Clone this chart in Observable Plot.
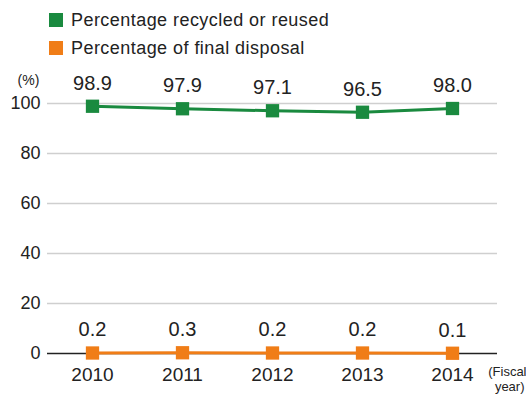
<!DOCTYPE html>
<html><head><meta charset="utf-8">
<script src="https://cdn.jsdelivr.net/npm/d3@7"></script>
<script src="https://cdn.jsdelivr.net/npm/@observablehq/plot@0.6"></script>
<style>
body{margin:0;background:#fff;font-family:"Liberation Sans",Arial,sans-serif;}
#wrap{position:relative;width:526px;height:396px;overflow:hidden;}
#legend{position:absolute;left:49px;top:6px;font-size:18px;letter-spacing:0.45px;color:#222;}
.li{display:flex;align-items:center;height:28px;}
.sw{width:14px;height:14px;margin-right:8px;}
#chart{position:absolute;left:0;top:60px;}
</style></head>
<body><div id="wrap"><div id="legend"></div><div id="chart"></div></div>
<script>
const years = ["2010","2011","2012","2013","2014"];
const recycled = [98.9, 97.9, 97.1, 96.5, 98.0];
const disposal = [0.2, 0.3, 0.2, 0.2, 0.1];
const seriesNames = ["Percentage recycled or reused", "Percentage of final disposal"];
const colors = ["#1a8a3f", "#f07d17"];
const yTicks = [0, 20, 40, 60, 80, 100];

const rows = [];
years.forEach((y, i) => {
  rows.push({year: y, value: recycled[i], s: seriesNames[0]});
  rows.push({year: y, value: disposal[i], s: seriesNames[1]});
});

const leg = document.getElementById("legend");
seriesNames.forEach((n, i) => {
  const d = document.createElement("div"); d.className = "li";
  d.innerHTML = `<span class="sw" style="background:${colors[i]}"></span><span>${n}</span>`;
  leg.appendChild(d);
});

const chart = Plot.plot({
  width: 526, height: 336,
  marginLeft: 47, marginRight: 29, marginTop: 43, marginBottom: 43,
  style: {fontFamily: "Liberation Sans, Arial, sans-serif", background: "#fff"},
  x: {type: "point", domain: years, padding: 0.5},
  y: {domain: [0, 100]},
  color: {domain: seriesNames, range: colors},
  marks: [
    Plot.ruleY(yTicks.filter(d => d > 0), {stroke: "#cfcfcf", strokeWidth: 1.5}),
    Plot.ruleY([0], {stroke: "#222", strokeWidth: 1.5}),
    Plot.axisY({ticks: yTicks, tickSize: 0, tickPadding: 7, fontSize: 18, fill: "#222", label: null}),
    Plot.axisX({tickSize: 0, tickPadding: 14, fontSize: 19, fill: "#222", label: null, style: {letterSpacing: "1px"}}),
    Plot.text(["(%)"], {frameAnchor: "top-left", textAnchor: "middle", dx: -19, dy: -28, fontSize: 14, fill: "#222"}),
    Plot.text(["(Fiscal"], {frameAnchor: "bottom-right", textAnchor: "end", dx: 29, dy: 22, fontSize: 13, fill: "#222"}),
    Plot.text(["year)"], {frameAnchor: "bottom-right", textAnchor: "end", dx: 27, dy: 37, fontSize: 13, fill: "#222"}),
    Plot.line(rows, {x: "year", y: "value", z: "s", stroke: "s", strokeWidth: 3}),
    Plot.dot(rows, {x: "year", y: "value", fill: "s", symbol: "square", r: 7.5}),
    Plot.text(rows, {x: "year", y: "value", text: d => d.value.toFixed(1), dy: -23, fontSize: 20, fill: "#222"})
  ]
});
document.getElementById("chart").appendChild(chart);
</script></body></html>
